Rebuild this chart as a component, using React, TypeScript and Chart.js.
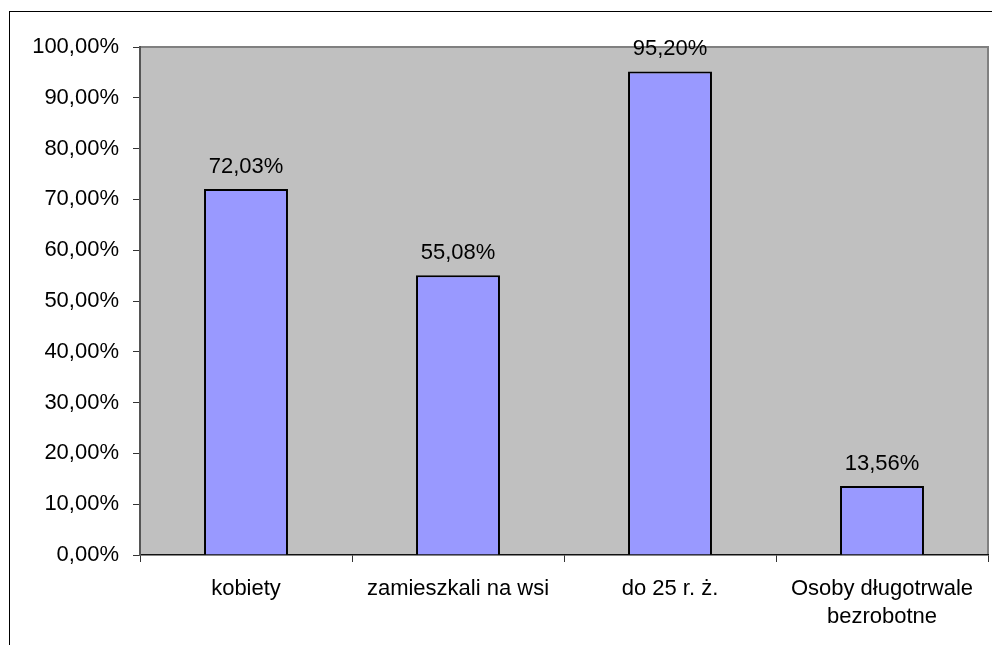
import React, { useEffect, useRef } from "react";
import { Chart, registerables } from "chart.js";

Chart.register(...registerables);

const categories: (string | string[])[] = [
  "kobiety",
  "zamieszkali na wsi",
  "do 25 r. ż.",
  ["Osoby długotrwale", "bezrobotne"],
];
const values: number[] = [0.7203, 0.5508, 0.952, 0.1356];
const yTickMin = 0;
const yTickMax = 1;
const yTickStep = 0.1;

const fmt = (v: number) => (v * 100).toFixed(2).replace(".", ",") + "%";

const FONT = "'Liberation Sans', Arial, sans-serif";

const framePlugin = {
  id: "frame",
  beforeDraw(chart: any) {
    const { ctx, chartArea } = chart;
    ctx.save();
    ctx.fillStyle = "#ffffff";
    ctx.fillRect(0, 0, chart.width, chart.height);
    ctx.fillStyle = "#C0C0C0";
    ctx.fillRect(chartArea.left, chartArea.top, chartArea.right - chartArea.left, chartArea.bottom - chartArea.top);
    ctx.strokeStyle = "#808080";
    ctx.lineWidth = 2;
    ctx.beginPath();
    ctx.moveTo(chartArea.left, chartArea.top);
    ctx.lineTo(chartArea.right, chartArea.top);
    ctx.lineTo(chartArea.right, chartArea.bottom);
    ctx.stroke();
    ctx.strokeStyle = "#000000";
    ctx.lineWidth = 1;
    ctx.strokeRect(9.5, 11.5, 3000, 3000);
    ctx.restore();
  },
};

const labelPlugin = {
  id: "valueLabels",
  afterDatasetsDraw(chart: any) {
    const { ctx } = chart;
    const meta = chart.getDatasetMeta(0);
    ctx.save();
    ctx.font = `22px ${FONT}`;
    ctx.fillStyle = "#000";
    ctx.textAlign = "center";
    ctx.textBaseline = "middle";
    meta.data.forEach((bar: any, i: number) => {
      ctx.fillText(fmt(values[i]), bar.x, bar.y - 22);
    });
    ctx.restore();
  },
};

export default function App() {
  const ref = useRef<HTMLCanvasElement>(null);
  useEffect(() => {
    const chart = new Chart(ref.current!, {
      type: "bar",
      data: {
        labels: categories,
        datasets: [
          {
            data: values,
            backgroundColor: "#9999FF",
            borderColor: "#000000",
            borderWidth: 2,
            categoryPercentage: 1,
            barPercentage: 0.396,
          },
        ],
      },
      options: {
        responsive: false,
        animation: false,
        layout: { padding: { top: 47, right: 4, left: 0, bottom: 0 } },
        plugins: { legend: { display: false }, tooltip: { enabled: false } },
        scales: {
          x: {
            offset: true,
            grid: { offset: true, drawOnChartArea: false, drawTicks: true, tickLength: 7, color: "#333333" },
            border: { color: "#111111", width: 1.5 },
            ticks: {
              color: "#000",
              font: { family: FONT, size: 22, lineHeight: 1.27 },
              padding: 13,
              maxRotation: 0,
              minRotation: 0,
              autoSkip: false,
            },
            afterFit: (s: any) => {
              s.height = 90;
            },
          },
          y: {
            min: yTickMin,
            max: yTickMax,
            grid: { drawOnChartArea: false, drawTicks: true, tickLength: 7, color: "#333333" },
            border: { color: "#555555", width: 2 },
            ticks: {
              stepSize: yTickStep,
              color: "#000",
              font: { family: FONT, size: 22 },
              padding: 14,
              callback: (v: any) => fmt(Number(v)),
            },
            afterFit: (s: any) => {
              s.width = 140;
            },
          },
        },
      },
      plugins: [framePlugin, labelPlugin],
    });
    return () => chart.destroy();
  }, []);
  return (
    <div style={{ position: "fixed", left: 0, top: 0, width: 992, height: 645 }}>
      <canvas ref={ref} width={992} height={645} style={{ display: "block" }} />
    </div>
  );
}
